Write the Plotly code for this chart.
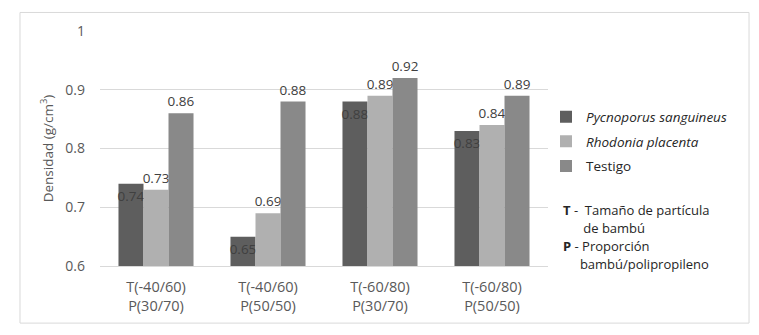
import plotly.graph_objects as go

categories = ["T(-40/60)<br>P(30/70)", "T(-40/60)<br>P(50/50)",
              "T(-60/80)<br>P(30/70)", "T(-60/80)<br>P(50/50)"]
pycnoporus = [0.74, 0.65, 0.88, 0.83]
rhodonia = [0.73, 0.69, 0.89, 0.84]
testigo = [0.86, 0.88, 0.92, 0.89]
series_names = ["<i>Pycnoporus sanguineus</i>", "<i>Rhodonia placenta</i>", "Testigo"]
colors = ["#5e5e5e", "#b0b0b0", "#898989"]

FONT = "Open Sans"
fig = go.Figure()
for i, (vals, name, col) in enumerate(zip([pycnoporus, rhodonia, testigo], series_names, colors)):
    fig.add_trace(go.Bar(
        x=categories, y=vals, name=name, marker_color=col, marker_line_width=0,
        text=[f"{v:.2f}" for v in vals],
        textposition="inside" if i == 0 else "outside",
        insidetextanchor="end",
        textangle=0,
        constraintext="none",
        textfont=dict(family=FONT, size=13.5, color="#404040"),
        cliponaxis=False,
        legendgroup=f"g{i}",
    ))

fig.update_layout(
    width=759, height=335,
    margin=dict(l=100, r=211, t=31, b=69),
    paper_bgcolor="white", plot_bgcolor="white",
    barmode="group", bargap=0.33, bargroupgap=0,
    font=dict(family=FONT, size=13, color="#595959"),
    legend=dict(x=(546 - 100) / 448, y=0.70, xanchor="left", yanchor="top",
                font=dict(family=FONT, size=13.5, color="#262626"),
                tracegroupgap=4, traceorder="grouped", itemwidth=30,
                bgcolor="rgba(0,0,0,0)"),
    yaxis=dict(range=[0.6, 1.0], dtick=0.1, showgrid=True, gridcolor="#d9d9d9",
               gridwidth=1, zeroline=False, showline=False,
               tickfont=dict(family=FONT, size=14, color="#595959"), ticks="",
               ticklabelstandoff=14,
               title=dict(text="Densidad (g/cm<sup>3</sup>)", standoff=8,
                          font=dict(family=FONT, size=13.5, color="#595959"))),
    xaxis=dict(showline=True, linecolor="#d9d9d9", linewidth=1, ticks="",
               ticklabelstandoff=8,
               tickfont=dict(family=FONT, size=14.5, color="#595959")),
    shapes=[dict(type="rect", xref="paper", yref="paper",
                 x0=-0.1786, x1=1.4487, y0=-0.243, y1=1.0789,
                 line=dict(color="#d9d9d9", width=1), fillcolor="rgba(0,0,0,0)")],
)

notes = [
    ("<b>T</b> -\u00a0\u00a0Tamaño de partícula", 210),
    ("\u00a0\u00a0\u00a0\u00a0\u00a0\u00a0de bambú", 228),
    ("<b>P</b> - Proporción", 246),
    ("\u00a0\u00a0\u00a0\u00a0\u00a0bambú/polipropileno", 264),
]
for txt, py in notes:
    fig.add_annotation(text=txt, xref="paper", yref="paper",
                       x=(561 - 100) / 448, y=(266 - py) / 234.5,
                       xanchor="left", yanchor="middle", showarrow=False,
                       font=dict(family=FONT, size=13, color="#262626"), align="left")

fig.write_html("out.html")
